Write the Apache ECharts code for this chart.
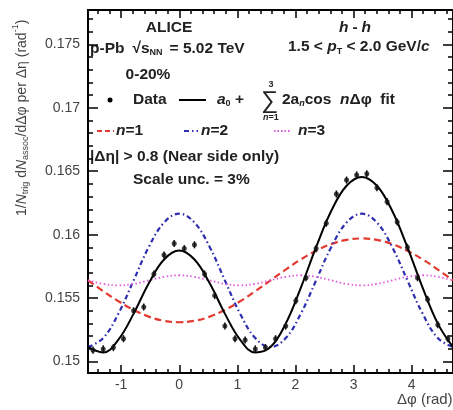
<!DOCTYPE html>
<html>
<head>
<meta charset="utf-8">
<script src="https://cdn.jsdelivr.net/npm/echarts@6/dist/echarts.min.js"></script>
<style>
  html, body { margin: 0; padding: 0; background: #fff; }
  #chart { width: 453px; height: 410px; }
</style>
</head>
<body>
<div id="chart"></div>
<script>
// data points: delta phi bin centres (rad) and per-trigger yield
const dphiData = [-1.484, -1.309, -1.134, -0.960, -0.785, -0.611, -0.436, -0.262, -0.087, 0.087,
  0.262, 0.436, 0.611, 0.785, 0.960, 1.134, 1.309, 1.484, 1.658, 1.833, 2.007, 2.182, 2.356, 2.531,
  2.705, 2.880, 3.054, 3.229, 3.403, 3.578, 3.752, 3.927, 4.102, 4.276, 4.451, 4.625];
const yieldData = [0.1509, 0.1510, 0.1511, 0.1518, 0.1540, 0.1543, 0.1569, 0.1584, 0.1593, 0.1589,
  0.1592, 0.1569, 0.1552, 0.1528, 0.1518, 0.1517, 0.1510, 0.1511, 0.1518, 0.1528, 0.1548, 0.1566,
  0.1589, 0.1609, 0.1632, 0.1643, 0.1647, 0.1648, 0.1637, 0.1626, 0.1610, 0.1590, 0.1566, 0.1549,
  0.1529, 0.1518];
const statErr = 0.00028;

// fit curves
const dphiFit = [-1.571, -1.309, -1.047, -0.785, -0.524, -0.262, 0, 0.262, 0.524, 0.785, 1.047, 1.309,
  1.571, 1.833, 2.094, 2.356, 2.618, 2.880, 3.142, 3.403, 3.665, 3.927, 4.189, 4.451, 4.712];
const fitTotal = [0.15115, 0.15072, 0.15173, 0.15378, 0.15617, 0.15804, 0.15875, 0.15804, 0.15617,
  0.15378, 0.15173, 0.15072, 0.15115, 0.15299, 0.15583, 0.15902, 0.16188, 0.16385, 0.16455, 0.16385,
  0.16188, 0.15902, 0.15583, 0.15299, 0.15115];
const fitN1 = [0.15640, 0.15555, 0.15475, 0.15407, 0.15354, 0.15321, 0.15310, 0.15321, 0.15354,
  0.15407, 0.15475, 0.15555, 0.15640, 0.15725, 0.15805, 0.15873, 0.15926, 0.15959, 0.15970, 0.15959,
  0.15926, 0.15873, 0.15805, 0.15725, 0.15640];
const fitN2 = [0.15115, 0.15185, 0.15378, 0.15640, 0.15903, 0.16095, 0.16165, 0.16095, 0.15903,
  0.15640, 0.15378, 0.15185, 0.15115, 0.15185, 0.15378, 0.15640, 0.15903, 0.16095, 0.16165, 0.16095,
  0.15903, 0.15640, 0.15378, 0.15185, 0.15115];
const fitN3 = [0.15640, 0.15612, 0.15600, 0.15612, 0.15640, 0.15668, 0.15680, 0.15668, 0.15640,
  0.15612, 0.15600, 0.15612, 0.15640, 0.15668, 0.15680, 0.15668, 0.15640, 0.15612, 0.15600, 0.15612,
  0.15640, 0.15668, 0.15680, 0.15668, 0.15640];

const xTickLabels = [-1, 0, 1, 2, 3, 4];
const yTickLabels = [0.15, 0.155, 0.16, 0.165, 0.17, 0.175];

const X_MIN = -1.5708, X_MAX = 4.7124;
const Y_MIN = 0.1491, Y_MAX = 0.1777;

// minor ticks (ROOT style, 5 divisions)
const xMinor = [];
for (let i = -7; i <= 23; i++) if (i % 5 !== 0) xMinor.push(i / 5);
const yMinor = [];
for (let i = 150; i <= 177; i++) if (i % 5 !== 0) yMinor.push(i / 1000);

const FONT = '"Liberation Sans", Arial, Helvetica, sans-serif';
const TXT = '#222';
const RED = '#e23a30', BLUE = '#2e2eb0', MAGENTA = '#e055e0';
const zip = (xs, ys) => xs.map((x, i) => [x, ys[i]]);

const mctx = document.createElement('canvas').getContext('2d');
function fontOf(p, base) {
  return (p.i ? 'italic ' : '') + ((p.b ?? base.b) ? 'bold ' : '') + (p.s || base.s) + 'px ' + FONT;
}
// lay out a run of text pieces (subscripts etc) starting at x, centred on y
function runs(x, y, parts, base) {
  const els = [];
  let cx = x;
  parts.forEach(p => {
    const font = fontOf(p, base);
    mctx.font = font;
    const w = mctx.measureText(p.t).width;
    els.push({
      type: 'text',
      style: { text: p.t, x: cx + (p.dx || 0), y: y + (p.dy || 0), font: font,
        fill: base.c || TXT, textVerticalAlign: 'middle' }
    });
    cx += w + (p.dx || 0);
  });
  return els;
}
function textWidth(parts, base) {
  let w = 0;
  parts.forEach(p => {
    mctx.font = fontOf(p, base);
    w += mctx.measureText(p.t).width + (p.dx || 0);
  });
  return w;
}
function centred(cx, y, parts, base) {
  return runs(cx - textWidth(parts, base) / 2, y, parts, base);
}

const B = { s: 15.5, b: true };
const S = 9;
const graphics = [];

graphics.push(...centred(169, 28, [{ t: 'ALICE' }], B));
graphics.push(...centred(355, 28, [{ t: 'h', i: true }, { t: '-', dx: 4 }, { t: 'h', i: true, dx: 4 }], B));
graphics.push(...runs(90, 49, [
  { t: 'p-Pb' }, { t: '\u221As', dx: 8 }, { t: 'NN', s: S, dy: 4 }, { t: '= 5.02 TeV', dx: 7 }
], B));
graphics.push(...runs(288, 47, [
  { t: '1.5 < ' }, { t: 'p', i: true }, { t: 'T', s: S, dy: 5 }, { t: ' < 2.0 GeV/' }, { t: 'c', i: true }
], B));
graphics.push(...centred(148, 75, [{ t: '0-20%' }], B));

// legend row 1
graphics.push({ type: 'circle', shape: { cx: 110, cy: 100, r: 2.5 }, style: { fill: '#000' } });
graphics.push(...runs(133, 100, [{ t: 'Data' }], B));
graphics.push({ type: 'line', shape: { x1: 179, y1: 100, x2: 206, y2: 100 }, style: { stroke: '#000', lineWidth: 2 } });
graphics.push(...runs(217, 100, [
  { t: 'a', i: true }, { t: '0', s: S, dy: 4 }, { t: ' + ' }
], B));
graphics.push(...runs(261, 101, [{ t: '\u2211', s: 24, b: false }], B));
graphics.push(...centred(271, 85, [{ t: '3', s: S }], B));
graphics.push(...centred(271, 118, [{ t: 'n', s: S, i: true }, { t: '=1', s: S }], B));
graphics.push(...runs(282, 100, [
  { t: '2a' }, { t: 'n', s: S, i: true, dy: 4 }, { t: 'cos  ' }, { t: 'n', i: true }, { t: '\u0394\u03C6  fit' }
], B));

// legend row 2
graphics.push({ type: 'line', shape: { x1: 97, y1: 131, x2: 114, y2: 131 }, style: { stroke: RED, lineWidth: 2, lineDash: [5, 3] } });
graphics.push(...runs(116, 131, [{ t: 'n', i: true }, { t: '=1' }], B));
graphics.push({ type: 'line', shape: { x1: 184, y1: 131, x2: 198, y2: 131 }, style: { stroke: BLUE, lineWidth: 2, lineDash: [5, 3, 1.5, 3] } });
graphics.push(...runs(201, 131, [{ t: 'n', i: true }, { t: '=2' }], B));
graphics.push({ type: 'line', shape: { x1: 274, y1: 131, x2: 290, y2: 131 }, style: { stroke: MAGENTA, lineWidth: 2, lineDash: [1.5, 2] } });
graphics.push(...runs(298, 131, [{ t: 'n', i: true }, { t: '=3' }], B));

graphics.push(...runs(90, 157, [{ t: '|\u0394\u03B7| > 0.8 (Near side only)' }], B));
graphics.push(...runs(133, 180, [{ t: 'Scale unc. = 3%' }], B));

// axis titles
graphics.push(...runs(397, 400, [{ t: '\u0394\u03C6 (rad)' }], { s: 15, b: false, c: '#444' }));

const YT = { s: 14, b: false, c: '#444' };
const yTitle = [
  { t: '1/' }, { t: 'N', i: true }, { t: 'trig', s: S, dy: 4 }, { t: ' d' }, { t: 'N', i: true },
  { t: 'assoc', s: S, dy: 4 }, { t: '/d\u0394\u03C6 per \u0394\u03B7 (rad' }, { t: '-1', s: S, dy: -6 }, { t: ')' }
];
graphics.push({
  type: 'group', x: 22, y: 216, rotation: Math.PI / 2,
  children: runs(0, 0, yTitle, YT)
});

function xAxisDef(pos, ticks, len, labels) {
  return {
    type: 'value', position: pos, min: X_MIN, max: X_MAX,
    axisLine: { show: true, onZero: false, lineStyle: { color: '#000', width: 2 } },
    axisTick: { show: true, inside: true, length: len, customValues: ticks, lineStyle: { color: '#000', width: 1.5 } },
    axisLabel: labels
      ? { show: true, customValues: ticks, margin: 5, fontSize: 14, fontFamily: FONT, color: '#444' }
      : { show: false },
    splitLine: { show: false }
  };
}
function yAxisDef(pos, ticks, len, labels) {
  return {
    type: 'value', position: pos, min: Y_MIN, max: Y_MAX,
    axisLine: { show: true, onZero: false, lineStyle: { color: '#000', width: 2 } },
    axisTick: { show: true, inside: true, length: len, customValues: ticks, lineStyle: { color: '#000', width: 1.5 } },
    axisLabel: labels
      ? { show: true, customValues: ticks, margin: 8, fontSize: 14, fontFamily: FONT, color: '#444' }
      : { show: false },
    splitLine: { show: false }
  };
}

const chart = echarts.init(document.getElementById('chart'), null, { renderer: 'canvas' });
chart.setOption({
  animation: false,
  backgroundColor: '#fff',
  grid: { left: 88, top: 10, width: 366, height: 363 },
  xAxis: [
    xAxisDef('bottom', xTickLabels, 8, true),
    xAxisDef('bottom', xMinor, 4, false),
    xAxisDef('top', xTickLabels, 8, false),
    xAxisDef('top', xMinor, 4, false)
  ],
  yAxis: [
    yAxisDef('left', yTickLabels, 10, true),
    yAxisDef('left', yMinor, 5, false),
    yAxisDef('right', yTickLabels, 10, false),
    yAxisDef('right', yMinor, 5, false)
  ],
  series: [
    {
      name: 'n=1', type: 'line', data: zip(dphiFit, fitN1), smooth: 0.4, showSymbol: false,
      lineStyle: { color: RED, width: 2.2, type: [7, 4] }, z: 2
    },
    {
      name: 'n=2', type: 'line', data: zip(dphiFit, fitN2), smooth: 0.4, showSymbol: false,
      lineStyle: { color: BLUE, width: 2.2, type: [5, 3, 1.5, 3] }, z: 2
    },
    {
      name: 'n=3', type: 'line', data: zip(dphiFit, fitN3), smooth: 0.4, showSymbol: false,
      lineStyle: { color: MAGENTA, width: 1.8, type: [1.5, 2.5] }, z: 2
    },
    {
      name: 'fit', type: 'line', data: zip(dphiFit, fitTotal), smooth: 0.4, showSymbol: false,
      lineStyle: { color: '#000', width: 2 }, z: 3
    },
    {
      name: 'err', type: 'custom', data: zip(dphiData, yieldData), z: 4,
      renderItem(params, api) {
        const x = api.value(0), y = api.value(1);
        const lo = api.coord([x, y - statErr]);
        const hi = api.coord([x, y + statErr]);
        return {
          type: 'line',
          shape: { x1: lo[0], y1: lo[1], x2: hi[0], y2: hi[1] },
          style: { stroke: '#111', lineWidth: 1.5 }
        };
      }
    },
    {
      name: 'Data', type: 'scatter', data: zip(dphiData, yieldData), symbol: 'circle', symbolSize: 5,
      itemStyle: { color: '#111' }, z: 5
    }
  ],
  graphic: graphics
});
</script>
</body>
</html>
